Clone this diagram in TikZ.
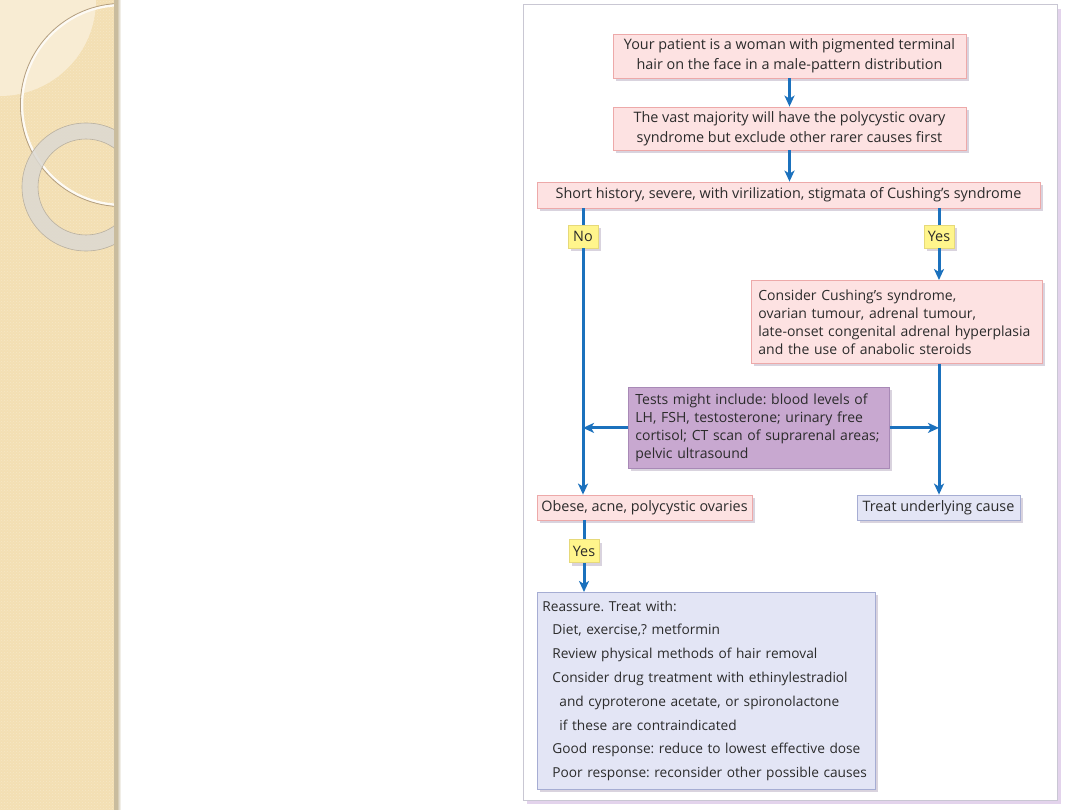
\documentclass[tikz,border=0pt]{standalone}
\usepackage{fontspec}
\setmainfont{Open Sans}
\usetikzlibrary{arrows.meta,shadows,patterns}
\definecolor{stripTan}{HTML}{F3DFB3}
\definecolor{stripLight}{HTML}{F8ECD3}
\definecolor{stripEdge}{HTML}{C9BC9E}
\definecolor{ringGray}{HTML}{DCD9D2}
\definecolor{ringEdge}{HTML}{B9B0A0}
\definecolor{circBrown}{HTML}{B49F80}
\definecolor{frameLine}{HTML}{C9C7D3}
\definecolor{frameShadow}{HTML}{E3D3EC}
\definecolor{pinkFill}{HTML}{FDE2E2}
\definecolor{pinkLine}{HTML}{EDA9A9}
\definecolor{yellowFill}{HTML}{FFF58C}
\definecolor{yellowLine}{HTML}{E6D97A}
\definecolor{purpleFill}{HTML}{C8A8D0}
\definecolor{purpleLine}{HTML}{A889B6}
\definecolor{lavFill}{HTML}{E3E5F5}
\definecolor{lavLine}{HTML}{A6ADD3}
\definecolor{boxShadow}{HTML}{D9D3DE}
\definecolor{arrowBlue}{HTML}{1B71BD}
\definecolor{txt}{HTML}{2B2B2B}
\frenchspacing
\begin{document}
\begin{tikzpicture}[x=1pt,y=-1pt,
  base/.style={line width=0.8pt, inner sep=0pt, text=txt,
    font=\fontsize{14.4}{20}\selectfont,
    drop shadow={shadow xshift=3pt,shadow yshift=-3pt,fill=boxShadow,opacity=1}},
  pinkbox/.style={base, draw=pinkLine, fill=pinkFill, align=center},
  lavbox/.style={base, draw=lavLine, fill=lavFill},
  testbox/.style={base, draw=purpleLine, fill=purpleFill},
  answer/.style={base, draw=yellowLine, fill=yellowFill, minimum height=23pt, minimum width=30pt},
  link/.style={draw=arrowBlue, line width=3pt},
  arr/.style={link, -{Stealth[length=11pt,width=10pt,inset=3pt]}}]
\useasboundingbox (0,0) rectangle (1080,810);
\fill[white] (0,0) rectangle (1080,810);

\fill[stripTan] (0,0) rectangle (115,810);
\fill[pattern=crosshatch dots, pattern color=white, opacity=0.25] (0,0) rectangle (115,810);
\begin{scope}
\clip (0,0) rectangle (115,810);
\fill[stripLight] (0,0) circle[radius=96];
\draw[white!85!stripTan, line width=2.5pt] (122,105) circle[radius=100];
\draw[circBrown, line width=0.8pt] (122,105) circle[radius=101.6];
\fill[ringGray, opacity=0.85, even odd rule] (86,187) circle[radius=64] (86,187) circle[radius=48];
\draw[ringEdge, line width=0.6pt] (86,187) circle[radius=64];
\draw[ringEdge, line width=0.6pt] (86,187) circle[radius=48];
\end{scope}
\fill[stripEdge] (114,0) rectangle (117,810);
\shade[left color=stripEdge, right color=white] (117,0) rectangle (121,810);

\fill[frameShadow] (527,9) rectangle (1061,804);
\filldraw[fill=white, draw=frameLine, line width=1pt] (523,5) rectangle (1057,800);

\node[pinkbox, minimum width=353pt, minimum height=44pt] (hair) at (789.5,56)
  {Your patient is a woman with pigmented terminal\\hair on the face in a male-pattern distribution};
\node[pinkbox, minimum width=353pt, minimum height=43pt] (majority) at (789.5,128.5)
  {The vast majority will have the polycystic ovary\\syndrome but exclude other rarer causes first};
\node[pinkbox, minimum width=503pt, minimum height=26pt] (history) at (788.5,195)
  {Short history, severe, with virilization, stigmata of Cushing’s syndrome};
\node[answer] (no) at (583,236.5) {No};
\node[answer] (yes) at (939,236.5) {Yes};
\node[pinkbox, anchor=north west, align=left, text width=277pt, inner xsep=7pt,
  minimum height=83pt, font=\fontsize{14}{18}\selectfont] (cushing) at (751,280)
  {Consider Cushing’s syndrome,\\ovarian tumour, adrenal tumour,\\\mbox{late-onset congenital adrenal hyperplasia}\\and the use of anabolic steroids};
\node[testbox, anchor=north west, align=left, text width=247pt, inner xsep=7pt,
  minimum height=81pt, font=\fontsize{14}{18}\selectfont] (tests) at (628,387)
  {\mbox{Tests might include: blood levels of}\\\mbox{LH, FSH, testosterone; urinary free}\\\mbox{cortisol; CT scan of suprarenal areas;}\\pelvic ultrasound};
\node[pinkbox, minimum width=215pt, minimum height=25pt] (obese) at (644.5,507.5)
  {Obese, acne, polycystic ovaries};
\node[lavbox, minimum width=163pt, minimum height=25pt] (treat) at (938.5,507.5)
  {Treat underlying cause};
\node[answer] (yes2) at (584,551) {Yes};
\node[lavbox, anchor=north west, align=left, text width=328pt, inner xsep=5pt,
  minimum height=197pt, font=\fontsize{13.7}{23.8}\selectfont] (reassure) at (537,592)
  {Reassure. Treat with:\\
   \hspace*{10pt}Diet, exercise,? metformin\\
   \hspace*{10pt}Review physical methods of hair removal\\
   \hspace*{10pt}\mbox{Consider drug treatment with ethinylestradiol}\\
   \hspace*{17pt}\mbox{and cyproterone acetate, or spironolactone}\\
   \hspace*{17pt}if these are contraindicated\\
   \hspace*{10pt}\mbox{Good response: reduce to lowest effective dose}\\
   \hspace*{10pt}\mbox{Poor response: reconsider other possible causes}};

\draw[arr] (hair.south) -- (hair.south |- majority.north);
\draw[arr] (majority.south) -- (majority.south |- history.north);
\draw[link] (no.north |- history.south) -- (no.north);
\draw[arr] (no.south) -- (no.south |- obese.north);
\draw[link] (yes.north |- history.south) -- (yes.north);
\draw[arr] (yes.south) -- (yes.south |- cushing.north);
\draw[arr] (yes.south |- cushing.south) -- (yes.south |- treat.north);
\draw[arr] (tests.west) -- (tests.west -| no.south);
\draw[arr] (tests.east) -- (tests.east -| yes.south);
\draw[link] (yes2.north |- obese.south) -- (yes2.north);
\draw[arr] (yes2.south) -- (yes2.south |- reassure.north);
\end{tikzpicture}
\end{document}
